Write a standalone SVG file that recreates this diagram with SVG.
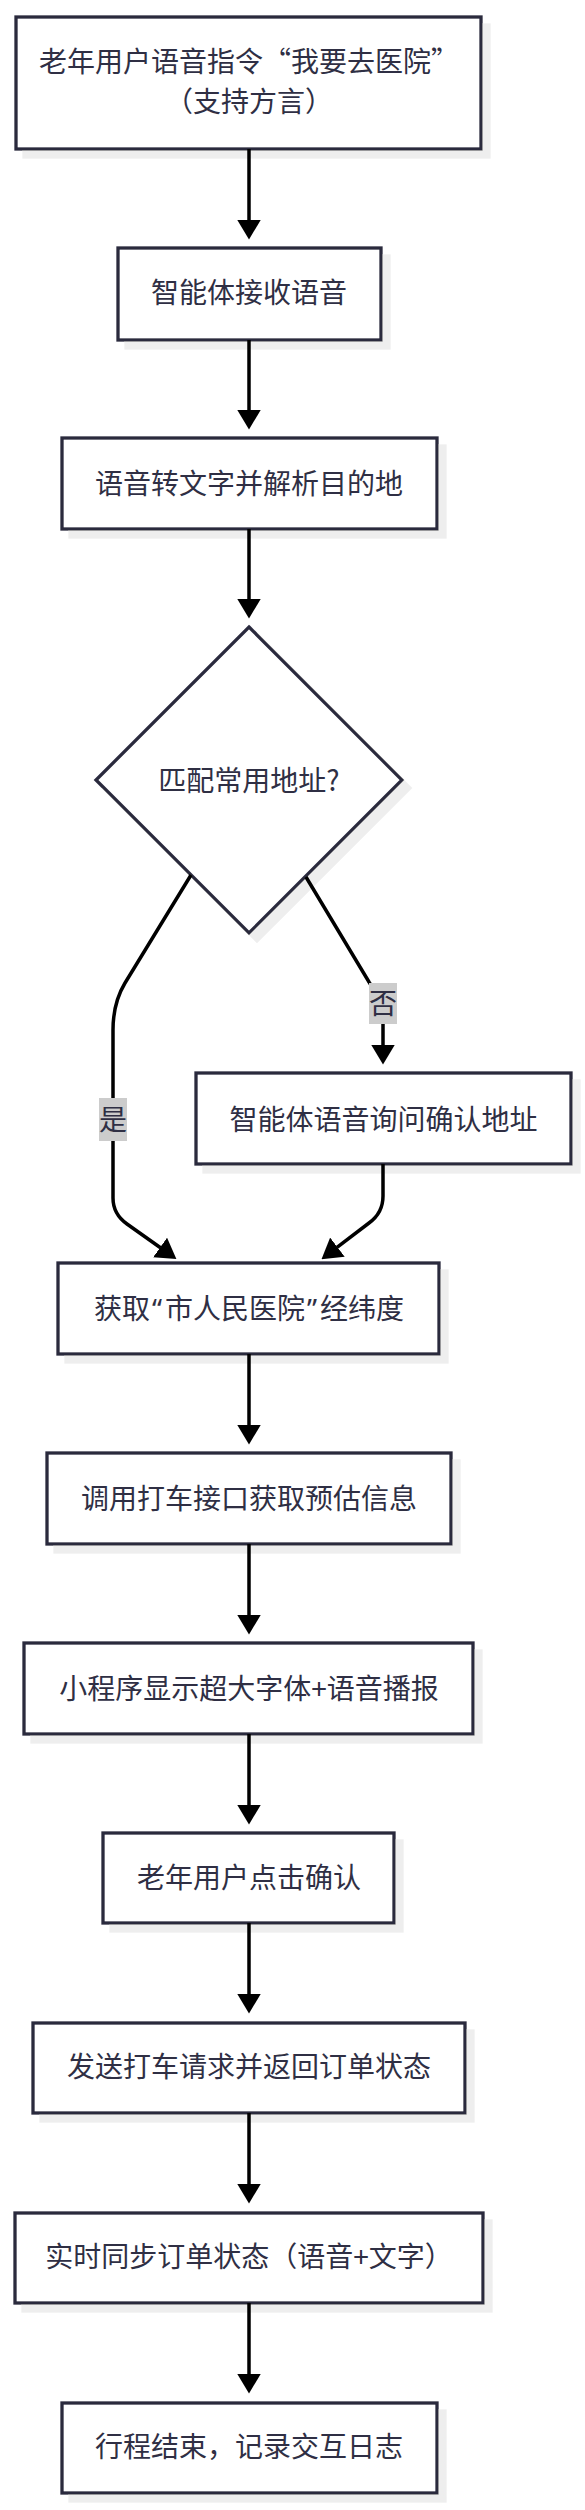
<svg xmlns="http://www.w3.org/2000/svg" width="585" height="2510" viewBox="0 0 585 2510">
  <defs>
    <filter id="shadow" x="-0.1" y="-0.2" width="1.3" height="1.5">
      <feFlood flood-color="#eeeeee"/>
      <feComposite in2="SourceAlpha" operator="in"/>
      <feOffset dx="8" dy="8" result="s"/>
      <feMerge><feMergeNode in="s"/><feMergeNode in="SourceGraphic"/></feMerge>
    </filter>
    <marker id="arrow" viewBox="0 0 20 24" refX="0.5" refY="12" markerWidth="20" markerHeight="24" markerUnits="userSpaceOnUse" orient="auto">
      <path d="M0,0 L20,12 L0,24 z" fill="#000000"/>
    </marker>
  </defs>
  <style>
    .node rect, .node polygon { fill: #ffffff; stroke: #2a2a3e; stroke-width: 3.3; filter: url(#shadow); }
    .node text, .label text { font-family: "Noto Sans CJK SC", "Noto Sans", sans-serif; font-size: 28px; fill: #2f2f44; text-anchor: middle; }
    .node text .q { font-family: "Noto Sans", "DejaVu Sans", sans-serif; }
    .edge { fill: none; stroke: #000000; stroke-width: 3.5; marker-end: url(#arrow); }
    .label rect { fill: #cccccc; }
  </style>
  <rect width="585" height="2510" fill="#ffffff"/>

  <g id="nodes">
    <g id="n1" class="node">
      <rect x="16" y="17" width="465" height="132"/>
      <text x="249" y="71.5">老年用户语音指令“我要去医院”</text>
      <text x="249" y="111.5">（支持方言）</text>
    </g>
    <g id="n2" class="node">
      <rect x="118" y="248" width="263" height="92"/>
      <text x="249" y="303">智能体接收语音</text>
    </g>
    <g id="n3" class="node">
      <rect x="62" y="438" width="375" height="91"/>
      <text x="249" y="494">语音转文字并解析目的地</text>
    </g>
    <g id="n4" class="node">
      <polygon points="249,627 402,780 249,933 96,780"/>
      <text x="249" y="790.5">匹配常用地址?</text>
    </g>
    <g id="n5" class="node">
      <rect x="196" y="1073" width="375" height="91"/>
      <text x="383.5" y="1130">智能体语音询问确认地址</text>
    </g>
    <g id="n6" class="node">
      <rect x="58" y="1263" width="381" height="91"/>
      <text x="249" y="1319">获取<tspan class="q" dx="2">“</tspan><tspan dx="3">市人民医院</tspan><tspan class="q" dx="2">”</tspan><tspan dx="3">经纬度</tspan></text>
    </g>
    <g id="n7" class="node">
      <rect x="47" y="1453" width="404" height="91"/>
      <text x="249" y="1509">调用打车接口获取预估信息</text>
    </g>
    <g id="n8" class="node">
      <rect x="24" y="1643" width="449" height="91"/>
      <text x="249" y="1699">小程序显示超大字体+语音播报</text>
    </g>
    <g id="n9" class="node">
      <rect x="103" y="1833" width="291" height="90"/>
      <text x="249" y="1888">老年用户点击确认</text>
    </g>
    <g id="n10" class="node">
      <rect x="33" y="2023" width="432" height="90"/>
      <text x="249" y="2077">发送打车请求并返回订单状态</text>
    </g>
    <g id="n11" class="node">
      <rect x="15" y="2213" width="468" height="90"/>
      <text x="249" y="2267">实时同步订单状态（语音+文字）</text>
    </g>
    <g id="n12" class="node">
      <rect x="62" y="2403" width="375" height="90"/>
      <text x="249" y="2457">行程结束，记录交互日志</text>
    </g>
  </g>

  <g id="connectors">
    <path class="edge" d="M249,149 V220"/>
    <path class="edge" d="M249,340 V410"/>
    <path class="edge" d="M249,529 V599"/>
    <path class="edge" d="M191,875 L125,983 Q113,1003 113,1030 L113,1198 Q113,1214 127,1224 L160.5,1247.8"/>
    <path class="edge" d="M306,877 L369,982 Q383,1002 383,1022 L383,1045"/>
    <path class="edge" d="M383,1164 L383,1196 Q383,1213 369,1223 L337,1247.4"/>
    <path class="edge" d="M249,1354 V1425"/>
    <path class="edge" d="M249,1544 V1615"/>
    <path class="edge" d="M249,1734 V1805"/>
    <path class="edge" d="M249,1923 V1994"/>
    <path class="edge" d="M249,2113 V2184"/>
    <path class="edge" d="M249,2303 V2374"/>
  </g>

  <g id="edge-labels">
    <g id="label-yes" class="label">
      <rect x="99" y="1098" width="28" height="43"/>
      <text x="113" y="1130">是</text>
    </g>
    <g id="label-no" class="label">
      <rect x="369" y="983" width="28" height="41"/>
      <text x="383" y="1014">否</text>
    </g>
  </g>
</svg>
